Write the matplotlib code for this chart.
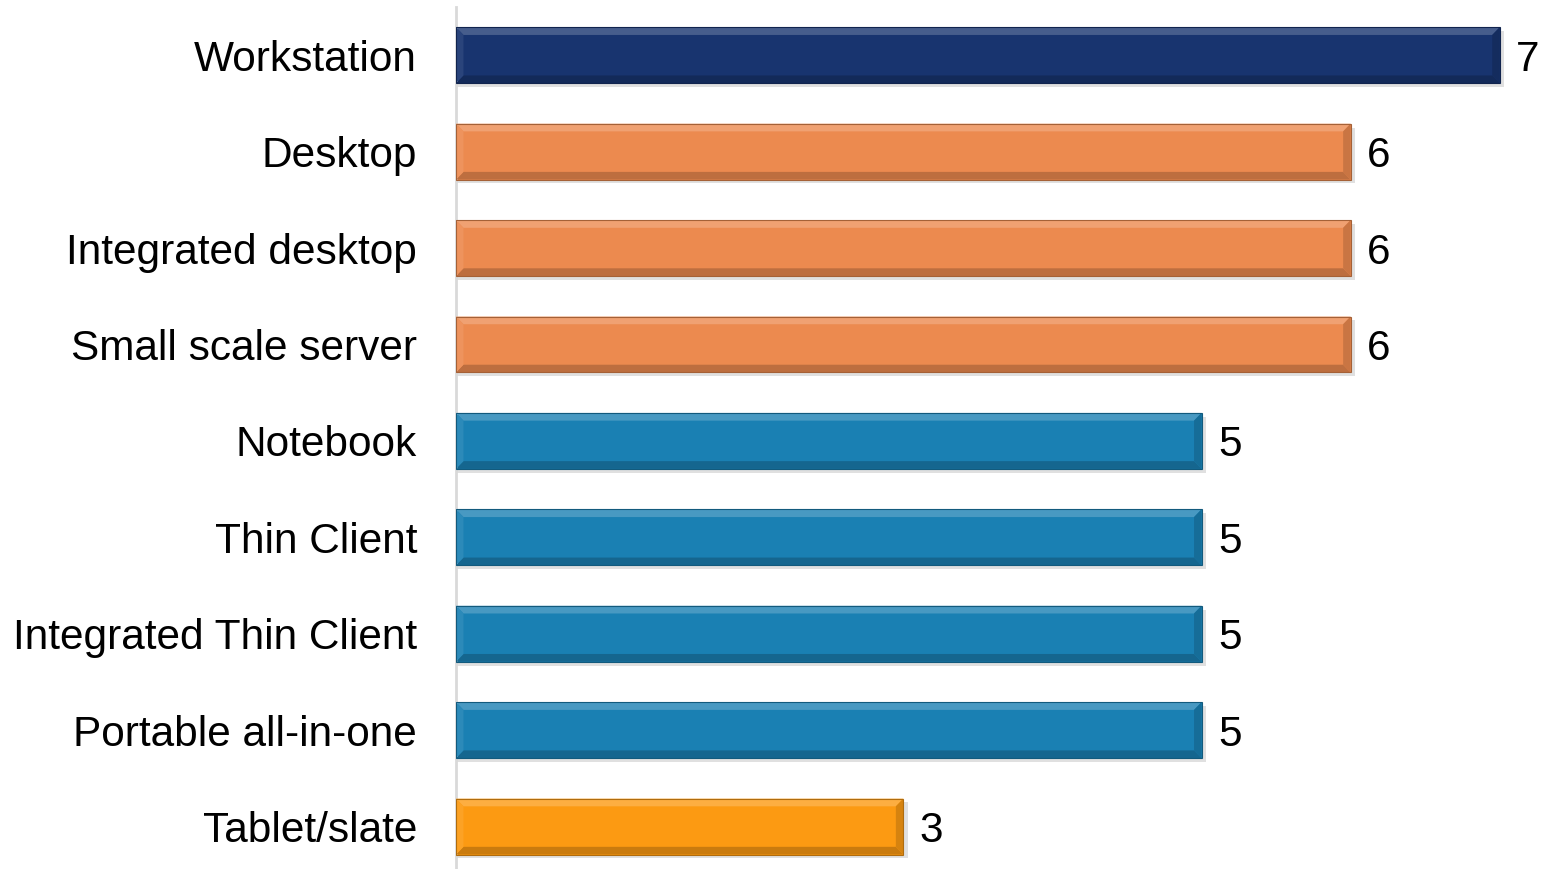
import matplotlib

matplotlib.use("Agg")
import matplotlib.pyplot as plt
from matplotlib.patches import Polygon, Rectangle
from matplotlib.colors import to_rgb

plt.rcParams["font.family"] = ["Liberation Sans", "DejaVu Sans"]

categories = ["Workstation", "Desktop", "Integrated desktop", "Small scale server",
              "Notebook", "Thin Client", "Integrated Thin Client",
              "Portable all-in-one", "Tablet/slate"]
values = [7, 6, 6, 6, 5, 5, 5, 5, 3]
colors = ["#18346F", "#EC8A4F", "#EC8A4F", "#EC8A4F",
          "#1A80B3", "#1A80B3", "#1A80B3", "#1A80B3", "#FC9A12"]

BAR_H = 0.58


def shade(c, f):
    r, g, b = to_rgb(c)
    if f > 0:
        return (r + (1 - r) * f, g + (1 - g) * f, b + (1 - b) * f)
    return (r * (1 + f), g * (1 + f), b * (1 + f))


def bevel_bar(ax, y, w, color, bx=0.05, by=0.08):
    top, bot = y - BAR_H / 2, y + BAR_H / 2
    # soft drop shadow
    ax.add_patch(Rectangle((0.01, top + 0.04), w + 0.02, BAR_H, color="#000000",
                           alpha=0.12, lw=0, zorder=1))
    ax.add_patch(Rectangle((0, top), w, BAR_H, color=color, lw=0, zorder=2))
    # bevel edges: light on top/left, dark on bottom/right
    faces = [
        ([(0, top), (w, top), (w - bx, top + by), (bx, top + by)], 0.2),
        ([(0, bot), (w, bot), (w - bx, bot - by), (bx, bot - by)], -0.2),
        ([(0, top), (bx, top + by), (bx, bot - by), (0, bot)], 0.08),
        ([(w, top), (w - bx, top + by), (w - bx, bot - by), (w, bot)], -0.15),
    ]
    for pts, f in faces:
        ax.add_patch(Polygon(pts, closed=True, color=shade(color, f), lw=0, zorder=3))
    ax.add_patch(Rectangle((0, top), w, BAR_H, fill=False,
                           ec=shade(color, -0.3), lw=0.8, zorder=4))


fig = plt.figure(figsize=(15.44, 8.69), dpi=100)
ax = fig.add_axes([456 / 1544, 0, 1 - 456 / 1544, 862 / 869])

for i, (v, c) in enumerate(zip(values, colors)):
    bevel_bar(ax, i, v, c)
    ax.text(v + 0.11, i, str(v), va="center_baseline", ha="left", fontsize=30.5,
            color="black")

ax.set_xlim(0, 1088 / 149.1)
ax.set_ylim(8.44, -0.5)
ax.set_yticks(range(len(categories)))
ax.set_yticklabels(categories, fontsize=30.5)
ax.tick_params(axis="y", length=0, pad=28)
ax.set_xticks([])
for side in ["top", "right", "bottom"]:
    ax.spines[side].set_visible(False)
ax.spines["left"].set_color("#D9D9D9")
ax.spines["left"].set_linewidth(2)

fig.savefig("out.png", dpi=100)
